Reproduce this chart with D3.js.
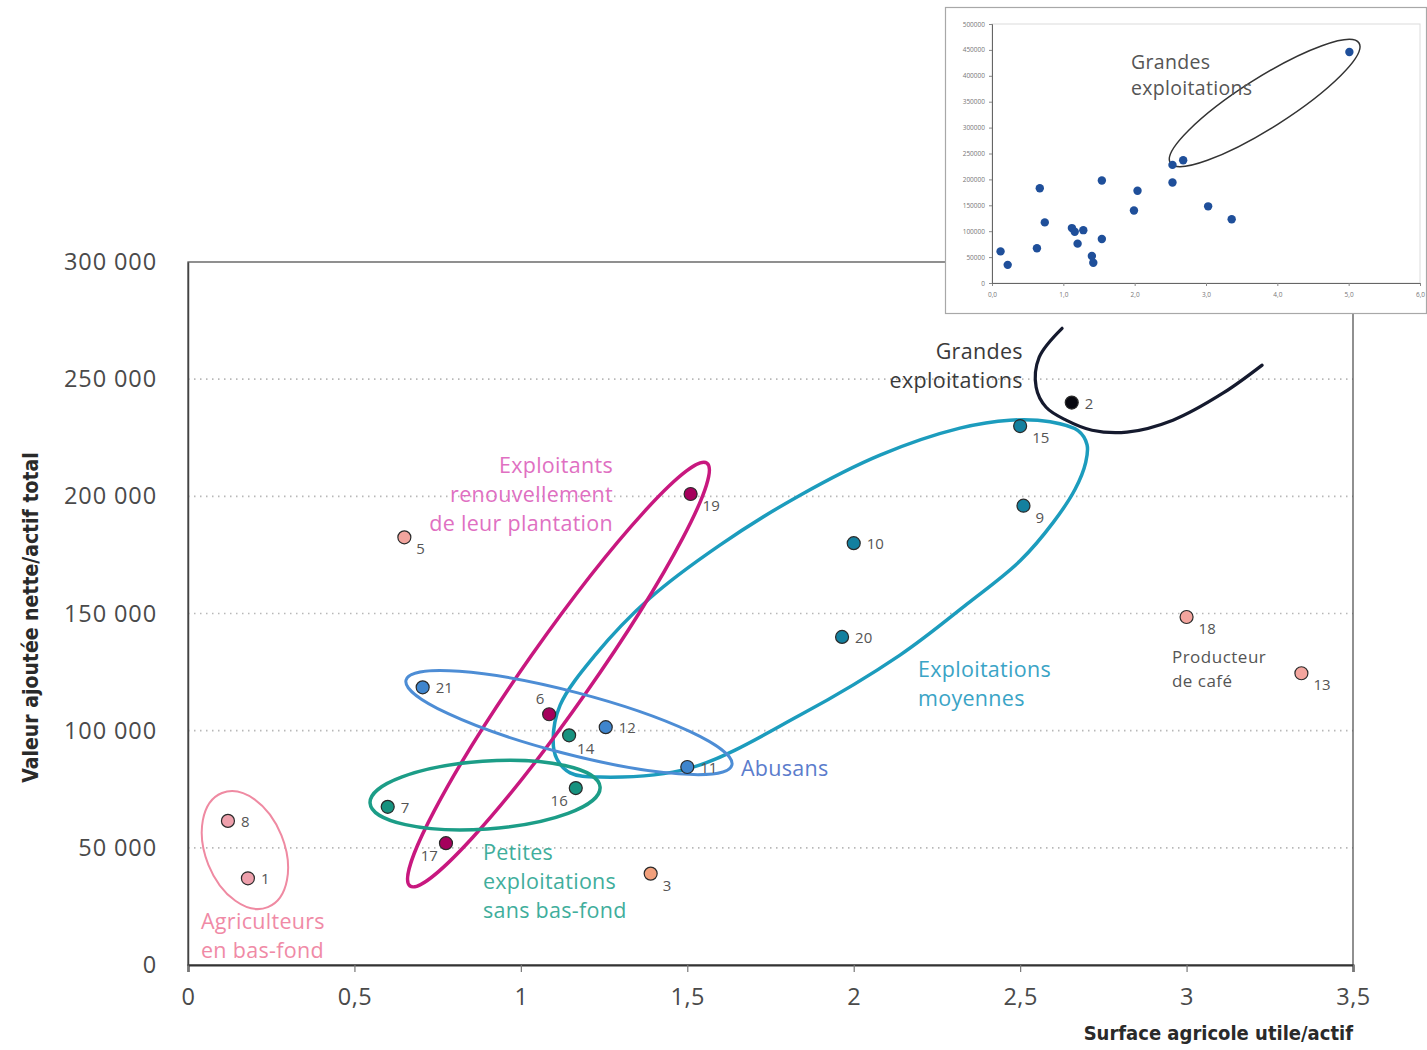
<!DOCTYPE html>
<html><head><meta charset="utf-8">
<script src="https://cdn.jsdelivr.net/npm/d3@7"></script>
<style>
body{margin:0;background:#fff;}
svg{display:block;background:#fff;}
</style></head><body>
<svg id="c" width="1427" height="1050"></svg>
<script>
// ---------- main chart data ----------
const pointIds   = [1, 2, 3, 5, 6, 7, 8, 9, 10, 11, 12, 13, 14, 15, 16, 17, 18, 19, 20, 21];
const pointX     = [0.18, 2.655, 1.39, 0.65, 1.085, 0.60, 0.12, 2.51, 2.0, 1.50, 1.255, 3.345, 1.145, 2.50, 1.165, 0.775, 3.0, 1.51, 1.965, 0.705];
const pointY     = [37000, 240000, 39000, 182500, 107000, 67500, 61500, 196000, 180000, 84500, 101500, 124500, 98000, 230000, 75500, 52000, 148500, 201000, 140000, 118500];
const pointGroup = ["basfond","grandes","isole3","isole","renouv","petites","basfond","moyennes","moyennes","abusans","abusans","isole","petites","moyennes","petites","renouv","isole","renouv","moyennes","abusans"];
const labelSide  = ["r","r","br","br","tl","r","r","br","r","r","r","br","b","br","bl","bl","br","br","r","r"];

const xTicks = [0, 0.5, 1, 1.5, 2, 2.5, 3, 3.5];
const xTickLabels = ["0", "0,5", "1", "1,5", "2", "2,5", "3", "3,5"];
const yTicks = [0, 50000, 100000, 150000, 200000, 250000, 300000];
const yTickLabels = ["0", "50 000", "100 000", "150 000", "200 000", "250 000", "300 000"];
const xTitle = "Surface agricole utile/actif";
const yTitle = "Valeur ajoutée nette/actif total";

// group ellipses (major-axis end points in data units, minor/major ratio)
const ellGroup  = ["basfond", "renouv", "abusans", "petites"];
const ellX1 = [0.102, 0.667, 0.655, 0.547];
const ellY1 = [73400, 33700, 121600, 69100];
const ellX2 = [0.240, 1.559, 1.634, 1.238];
const ellY2 = [24700, 214200, 85300, 75900];
const ellRatio = [0.64, 0.128, 0.184, 0.294];

// "Exploitations moyennes" egg outline, traced (data units)
const eggX = [1.097, 1.108, 1.148, 1.238, 1.508, 1.839, 2.139, 2.340, 2.500, 2.600, 2.665, 2.697, 2.701, 2.674, 2.590, 2.469, 2.319, 2.079, 1.839, 1.598, 1.388, 1.223, 1.118];
const eggY = [96000, 88000, 82000, 80200, 84000, 106650, 132250, 154000, 172500, 189000, 203000, 214500, 222000, 228000, 231800, 232500, 229100, 217600, 200500, 179200, 156600, 132200, 110900];

// "Grandes exploitations" open curve (data units)
const grX = [2.626, 2.557, 2.548, 2.578, 2.638, 2.716, 2.821, 2.959, 3.109, 3.227];
const grY = [271700, 259300, 246600, 238000, 232500, 228200, 227400, 232500, 244000, 256000];

// group labels
const gLabelLines = [["Grandes","exploitations"],["Exploitants","renouvellement","de leur plantation"],["Exploitations","moyennes"],["Abusans"],["Petites","exploitations","sans bas-fond"],["Agriculteurs","en bas-fond"],["Producteur","de café"]];
const gLabelGroup = ["grandes","renouv","moyennes","abusans","petites","basfond","cafe"];
const gLabelX = [2.508, 1.277, 2.193, 1.661, 0.886, 0.039, 2.956];
const gLabelY = [258500, 209900, 122900, 80600, 44800, 15400, 128800];
const gLabelAnchor = ["end","end","start","start","start","start","start"];

// ---------- inset data ----------
const insetX = [0.12, 0.22, 0.67, 0.74, 0.63, 1.12, 1.16, 1.28, 1.20, 1.40, 1.42, 1.54, 1.54, 1.99, 2.04, 2.53, 2.53, 2.68, 3.03, 3.36, 5.01];
const insetY = [61000, 35000, 183000, 117000, 67000, 106000, 99000, 102000, 76000, 52000, 39000, 85000, 198000, 140000, 178000, 194000, 228000, 237000, 148000, 123000, 446000];
const insetXTicks = [0, 1, 2, 3, 4, 5, 6];
const insetXTickLabels = ["0,0", "1,0", "2,0", "3,0", "4,0", "5,0", "6,0"];
const insetYTicks = [0, 50000, 100000, 150000, 200000, 250000, 300000, 350000, 400000, 450000, 500000];
const insetYTickLabels = ["0", "50000", "100000", "150000", "200000", "250000", "300000", "350000", "400000", "450000", "500000"];
const insetEll = {x1: 2.50, y1: 231700, x2: 5.145, y2: 463300, ratio: 0.223};
const insetLabel = ["Grandes", "exploitations"];
const insetLabelPos = [1.95, 413000];

// ---------- styles ----------
const fillColor = {basfond:"#eea0ac", grandes:"#07070f", isole3:"#f2a07c", isole:"#f3a59e", renouv:"#a5005c", petites:"#17927f", moyennes:"#13809f", abusans:"#3f85cd"};
const strokeColor = {basfond:"#ef8aa2", renouv:"#c8187f", abusans:"#4d8dd5", petites:"#1c9d87", moyennes:"#1c9cbd", grandes:"#151a2e"};
const textColor = {grandes:"#3a3a3a", renouv:"#e070c2", moyennes:"#3aa4c6", abusans:"#5b7ccc", petites:"#3fae9c", basfond:"#f08aa6", cafe:"#555"};
const strokeW = {basfond:2, renouv:3.5, abusans:3, petites:3.5, moyennes:3.5, grandes:3.2};

const svg = d3.select("#c");
const x = d3.scaleLinear([0, 3.5], [188, 1353]);
const y = d3.scaleLinear([0, 300000], [965, 262]);

// gridlines
svg.append("g").selectAll("line").data(yTicks.filter(d => d > 0 && d < 300000)).join("line")
  .attr("x1", x(0)).attr("x2", x(3.5)).attr("y1", d => y(d)).attr("y2", d => y(d))
  .attr("stroke", "#b8b8b8").attr("stroke-width", 1.6).attr("stroke-dasharray", "1.5,4.5");

// frame
svg.append("rect").attr("x", x(0)).attr("y", y(300000)).attr("width", x(3.5) - x(0)).attr("height", y(0) - y(300000))
  .attr("fill", "none").attr("stroke", "#555").attr("stroke-width", 1.3);

// axes
const xAxis = svg.append("g").attr("transform", `translate(0,${y(0)})`)
  .call(d3.axisBottom(x).tickValues(xTicks).tickFormat((d, i) => xTickLabels[i]).tickSize(7).tickPadding(16));
xAxis.select(".domain").attr("stroke", "#333").attr("stroke-width", 2.2);
xAxis.selectAll(".tick line").attr("stroke", "#777").attr("stroke-width", 1.2);
xAxis.selectAll("text").attr("font-family", "'Open Sans', sans-serif").attr("font-size", 23.5).attr("fill", "#4a4a4a").attr("letter-spacing", 0.5);

const yAxis = svg.append("g").attr("transform", `translate(${x(0)},0)`)
  .call(d3.axisLeft(y).tickValues(yTicks).tickFormat((d, i) => yTickLabels[i]).tickSize(0).tickPadding(31));
yAxis.select(".domain").attr("stroke", "#444").attr("stroke-width", 1.5);
yAxis.selectAll("text").attr("font-family", "'Open Sans', sans-serif").attr("font-size", 23.5).attr("fill", "#4a4a4a").attr("letter-spacing", 0.9);

// axis titles
svg.append("text").attr("x", x(3.5)).attr("y", 1040).attr("text-anchor", "end")
  .attr("font-family", "'Liberation Sans Narrow', 'DejaVu Sans Condensed', sans-serif").attr("font-weight", "bold")
  .attr("font-size", 20).attr("fill", "#2a2a2a").text(xTitle);
svg.append("text").attr("transform", `translate(38,${(455 + 780) / 2}) rotate(-90)`).attr("text-anchor", "middle")
  .attr("font-family", "'Liberation Sans Narrow', 'DejaVu Sans Condensed', sans-serif").attr("font-weight", "bold")
  .attr("font-size", 21).attr("fill", "#2a2a2a").text(yTitle);

// group ellipses
function ellGeom(x1, y1, x2, y2, ratio, sx, sy) {
  const ax = sx(x1), ay = sy(y1), bx = sx(x2), by = sy(y2);
  const a = Math.hypot(bx - ax, by - ay) / 2;
  return {cx: (ax + bx) / 2, cy: (ay + by) / 2, rx: a, ry: a * ratio, ang: Math.atan2(by - ay, bx - ax) * 180 / Math.PI};
}
const gE = svg.append("g");
gE.append("path").datum(eggX.map((d, i) => [d, eggY[i]]))
  .attr("d", d3.line().x(d => x(d[0])).y(d => y(d[1])).curve(d3.curveCatmullRomClosed.alpha(0.5)))
  .attr("fill", "none").attr("stroke", strokeColor.moyennes).attr("stroke-width", strokeW.moyennes);
ellGroup.forEach((g, i) => {
  const e = ellGeom(ellX1[i], ellY1[i], ellX2[i], ellY2[i], ellRatio[i], x, y);
  gE.append("ellipse").attr("cx", 0).attr("cy", 0).attr("rx", e.rx).attr("ry", e.ry)
    .attr("transform", `translate(${e.cx},${e.cy}) rotate(${e.ang})`)
    .attr("fill", "none").attr("stroke", strokeColor[g]).attr("stroke-width", strokeW[g]);
});
gE.append("path").datum(grX.map((d, i) => [d, grY[i]]))
  .attr("d", d3.line().x(d => x(d[0])).y(d => y(d[1])).curve(d3.curveCatmullRom.alpha(0.5)))
  .attr("fill", "none").attr("stroke", strokeColor.grandes).attr("stroke-width", strokeW.grandes).attr("stroke-linecap", "round");

// points
const pts = pointIds.map((id, i) => ({id, x: pointX[i], y: pointY[i], g: pointGroup[i], side: labelSide[i]}));
svg.append("g").selectAll("circle").data(pts).join("circle")
  .attr("cx", d => x(d.x)).attr("cy", d => y(d.y)).attr("r", 6.5)
  .attr("fill", d => fillColor[d.g]).attr("stroke", "#2a2a2a").attr("stroke-width", 1.2);

const off = {r: [13, 6, "start"], br: [12, 17, "start"], bl: [-8, 18, "end"], tl: [-9, -10, "middle"], b: [8, 19, "start"]};
svg.append("g").selectAll("text").data(pts).join("text")
  .attr("x", d => x(d.x) + off[d.side][0]).attr("y", d => y(d.y) + off[d.side][1])
  .attr("text-anchor", d => off[d.side][2])
  .attr("font-family", "'Open Sans', sans-serif").attr("font-size", 15).attr("fill", "#555").text(d => d.id);

// group labels
gLabelLines.forEach((lines, i) => {
  const g = gLabelGroup[i];
  const fs = g === "cafe" ? 17 : 21.5;
  const lh = g === "cafe" ? 24 : 29;
  const t = svg.append("text").attr("text-anchor", gLabelAnchor[i])
    .attr("font-family", "'Open Sans', sans-serif").attr("font-size", fs).attr("fill", textColor[g])
    .attr("letter-spacing", g === "cafe" ? 0.5 : 0.3);
  lines.forEach((ln, j) => t.append("tspan").attr("x", x(gLabelX[i])).attr("y", y(gLabelY[i]) + j * lh).text(ln));
});

// ---------- inset ----------
const ins = svg.append("g");
ins.append("rect").attr("x", 945.5).attr("y", 7.5).attr("width", 481).attr("height", 306)
  .attr("fill", "#fff").attr("stroke", "#a8a8a8").attr("stroke-width", 1.2);
const ix = d3.scaleLinear([0, 6], [992, 1420]);
const iy = d3.scaleLinear([0, 500000], [283, 24]);
ins.append("rect").attr("x", ix(0)).attr("y", iy(500000)).attr("width", ix(6) - ix(0)).attr("height", iy(0) - iy(500000))
  .attr("fill", "none").attr("stroke", "#dcdcdc").attr("stroke-width", 1);
const iax = ins.append("g").attr("transform", `translate(0,${iy(0)})`)
  .call(d3.axisBottom(ix).tickValues(insetXTicks).tickFormat((d, i) => insetXTickLabels[i]).tickSize(3).tickPadding(6));
const iay = ins.append("g").attr("transform", `translate(${ix(0)},0)`)
  .call(d3.axisLeft(iy).tickValues(insetYTicks).tickFormat((d, i) => insetYTickLabels[i]).tickSize(3).tickPadding(4));
[iax, iay].forEach(a => {
  a.select(".domain").attr("stroke", "#666").attr("stroke-width", 1);
  a.selectAll(".tick line").attr("stroke", "#888");
  a.selectAll("text").attr("font-family", "'Open Sans', sans-serif").attr("font-size", 6.5).attr("fill", "#777");
});
const ie = ellGeom(insetEll.x1, insetEll.y1, insetEll.x2, insetEll.y2, insetEll.ratio, ix, iy);
ins.append("ellipse").attr("cx", 0).attr("cy", 0).attr("rx", ie.rx).attr("ry", ie.ry)
  .attr("transform", `translate(${ie.cx},${ie.cy}) rotate(${ie.ang})`)
  .attr("fill", "none").attr("stroke", "#333").attr("stroke-width", 1.5);
ins.append("g").selectAll("circle").data(insetX.map((d, i) => [d, insetY[i]])).join("circle")
  .attr("cx", d => ix(d[0])).attr("cy", d => iy(d[1])).attr("r", 4.2).attr("fill", "#1f4f9a");
const it = ins.append("text").attr("font-family", "'Open Sans', sans-serif").attr("font-size", 19.5)
  .attr("fill", "#555").attr("letter-spacing", 0.3);
insetLabel.forEach((ln, j) => it.append("tspan").attr("x", ix(insetLabelPos[0])).attr("y", iy(insetLabelPos[1]) + j * 26).text(ln));
</script>
</body></html>
